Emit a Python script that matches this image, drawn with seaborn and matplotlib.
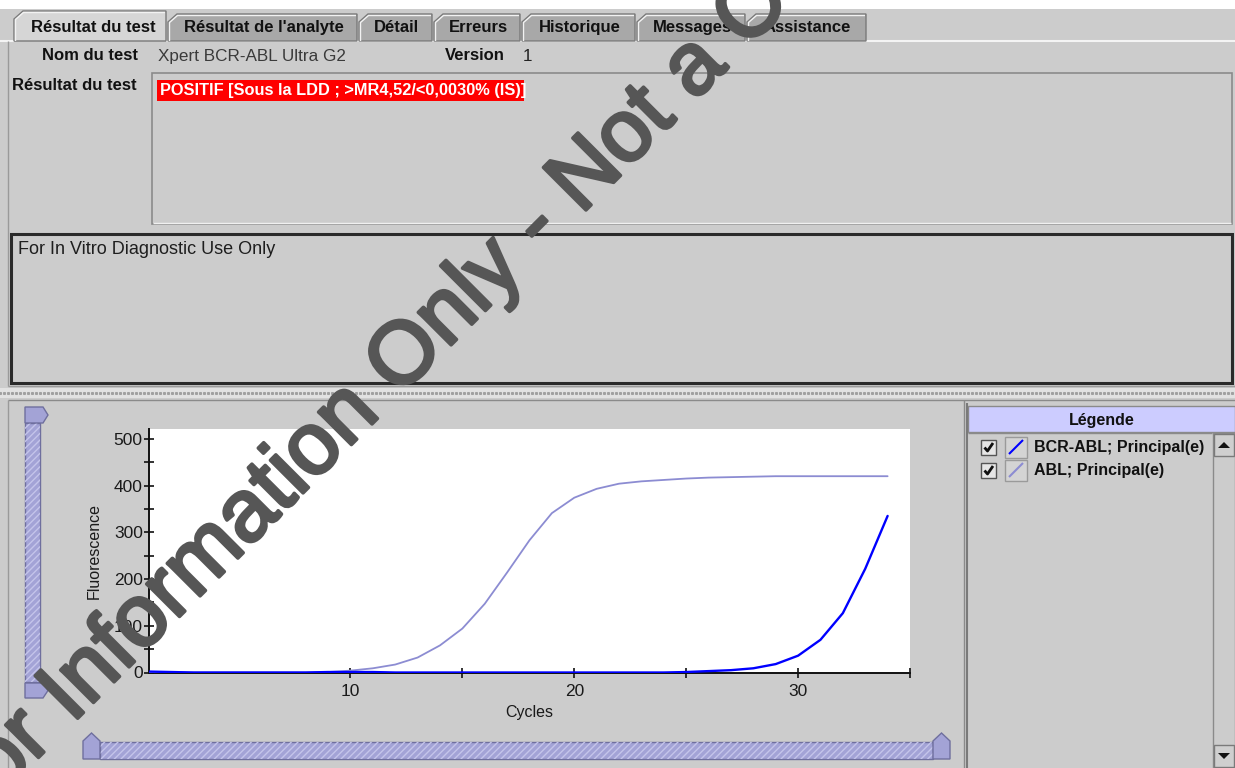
import matplotlib
matplotlib.use("Agg")
import matplotlib.pyplot as plt
import matplotlib.patheffects as pe
from matplotlib.patches import Rectangle, Polygon
from matplotlib.ticker import FixedLocator
import pandas as pd
import seaborn as sns

# values
cycles = list(range(1, 35))
bcr_abl = [2, 1, 0, 0, 0, 0, 0, 0, 1, 1, 1, 0, 0, 0, 0, 0, 0,
           0, 0, 0, 0, 0, 0, 0, 1, 3, 5, 9, 18, 36, 70, 127, 222, 335]
abl = [0, 0, 0, 0, 0, 0, 0, 0, 1, 4, 9, 17, 32, 58, 94, 147, 214,
       283, 341, 374, 393, 404, 409, 412, 415, 417, 418, 419, 420, 420, 420, 420, 420, 420]
series_names = ["BCR-ABL; Principal(e)", "ABL; Principal(e)"]
series_colors = ["#0000ff", "#8c8cd2"]
tab_labels = ["Résultat du test", "Résultat de l'analyte", "Détail", "Erreurs",
              "Historique", "Messages", "Assistance"]
test_name = "Xpert BCR-ABL Ultra G2"
version = "1"
result_text = "POSITIF [Sous la LDD ; >MR4,52/<0,0030% (IS)]"
notice = "For In Vitro Diagnostic Use Only"
watermark = "For Information Only - Not a Copy"

W, H = 1235, 768
GREY = "#cccccc"
LAV = "#a3a3d6"

sns.set_theme(style="white")
plt.rcParams["font.family"] = ["Liberation Sans", "DejaVu Sans"]

fig = plt.figure(figsize=(W / 100, H / 100), dpi=100, facecolor=GREY)
bg = fig.add_axes([0, 0, 1, 1], zorder=0)
bg.set_xlim(0, W)
bg.set_ylim(H, 0)
bg.axis("off")


def box(ax, x0, y0, x1, y1, fc="none", ec="none", lw=1.0, z=1):
    ax.add_patch(Rectangle((x0, y0), x1 - x0, y1 - y0, fc=fc, ec=ec, lw=lw, zorder=z))


def line(ax, xs, ys, c, lw=1.0, z=2):
    ax.plot(xs, ys, color=c, lw=lw, zorder=z, solid_capstyle="butt")


# top white strip
box(bg, 0, 0, W, 9, fc="white")

# tabs
tab_x = [(14, 166), (168, 357), (359, 432), (434, 520), (522, 635), (637, 745), (747, 866)]
for i, (lab, (x0, x1)) in enumerate(zip(tab_labels, tab_x)):
    top = 11 if i == 0 else 14
    fc = "#d6d6d6" if i == 0 else "#a8a8a8"
    pts = [(x0, 41), (x0, top + 8), (x0 + 9, top), (x1, top), (x1, 41)]
    bg.add_patch(Polygon(pts, closed=True, fc=fc, ec="#7a7a7a", lw=1.0, zorder=2))
    line(bg, [x0 + 1.5, x0 + 1.5, x0 + 9.5, x1 - 1], [41, top + 8.5, top + 1.5, top + 1.5], "#f2f2f2", 1.0, 3)
    bg.text((x0 + x1) / 2 + (3 if i == 0 else 1), 27.5, lab, ha="center", va="center",
            fontsize=12, fontweight="bold", color="#111111", zorder=4)
line(bg, [166, W], [41, 41], "#f4f4f4", 1.5, 1)
line(bg, [0, 14], [41, 41], "#f4f4f4", 1.5, 1)

# header fields
bg.text(138, 55.5, "Nom du test", ha="right", va="center", fontsize=12, fontweight="bold", color="#111111")
bg.text(158, 56.5, test_name, ha="left", va="center", fontsize=12.3, color="#3a3a3a")
bg.text(445, 55.5, "Version", ha="left", va="center", fontsize=12, fontweight="bold", color="#111111")
bg.text(523, 56.5, version, ha="left", va="center", fontsize=12.3, color="#222222")
bg.text(12, 85, "Résultat du test", ha="left", va="center", fontsize=12, fontweight="bold", color="#111111")

# result box
box(bg, 152, 73, 1232, 224, ec="#8a8a8a", lw=1.2)
line(bg, [153, 1231], [223, 223], "#f0f0f0", 1.0)
box(bg, 157, 79.5, 524, 101, fc="#ff0000")
bg.text(160, 90.5, result_text, ha="left", va="center", fontsize=11.8, fontweight="bold", color="white", zorder=3)

# notice box
box(bg, 10.5, 234, 1232, 383, ec="#2a2a2a", lw=2.2)
bg.text(18, 250, notice, ha="left", va="center", fontsize=13, color="#1e1e1e")

# outer panel border + splitter
line(bg, [8, 8], [41, 386], "#9a9a9a", 1.0)
line(bg, [8, W], [386, 386], "#9a9a9a", 1.0)
box(bg, 0, 388, W, 398, fc="#e2e2e2")
dots = range(0, W, 4)
bg.plot(dots, [393] * len(dots), ls="none", marker="s", ms=1.2, color="#a0a0a0", zorder=2)
line(bg, [8, W], [400, 400], "#8a8a8a", 1.0)
line(bg, [8, 8], [400, H], "#9a9a9a", 1.0)

# vertical range slider
box(bg, 25, 423, 40, 682, fc=LAV, ec="#6f6f9e", lw=1.0, z=2)
bg.add_patch(Rectangle((25, 423), 15, 259, fc="none", ec="#c4c4ea", hatch="/////", lw=0, zorder=3))
for yy0, yy1 in [(407, 423), (683, 698)]:
    pts = [(25, yy0), (43, yy0), (48, (yy0 + yy1) / 2), (43, yy1), (25, yy1)]
    bg.add_patch(Polygon(pts, closed=True, fc=LAV, ec="#6f6f9e", lw=1.0, zorder=3))

# horizontal range slider
box(bg, 100, 742, 933, 759, fc=LAV, ec="#6f6f9e", lw=1.0, z=2)
bg.add_patch(Rectangle((100, 742), 833, 17, fc="none", ec="#c4c4ea", hatch="/////", lw=0, zorder=3))
for xx0, xx1 in [(83, 100), (933, 950)]:
    pts = [(xx0, 759), (xx0, 741), ((xx0 + xx1) / 2, 733), (xx1, 741), (xx1, 759)]
    bg.add_patch(Polygon(pts, closed=True, fc=LAV, ec="#6f6f9e", lw=1.0, zorder=3))

# legend panel
line(bg, [964, 964], [400, H], "#8a8a8a", 1.0)
line(bg, [967, 967], [403, H], "#7a7a7a", 1.5)
box(bg, 968, 406, W, 432, fc="#ccccff", ec="#8a8a8a", lw=1.0)
bg.text(1102, 420, "Légende", ha="center", va="center", fontsize=11.5, fontweight="bold", color="#111111")
line(bg, [968, 1212], [433, 433], "#8a8a8a", 1.0)
for k, (name, col) in enumerate(zip(series_names, series_colors)):
    yc = 447 + 23 * k
    box(bg, 981, yc - 7, 996, yc + 8, fc="#e6e6e6", ec="#555555", lw=1.0, z=3)
    line(bg, [984.5, 987.5, 993], [yc + 0.5, yc + 4, yc - 4], "#111111", 2.0, 4)
    box(bg, 1005, yc - 10, 1027, yc + 11, fc="#d4d4d4", ec="#9a9a9a", lw=1.0, z=3)
    line(bg, [1009, 1023], [yc + 7, yc - 7], col, 1.5, 4)
    bg.text(1034, yc + 0.5, name, ha="left", va="center", fontsize=11.5, fontweight="bold", color="#111111")

# legend scrollbar
box(bg, 1213, 433, W, H, fc=GREY, ec="#8a8a8a", lw=1.0)
for yy0, yy1, up in [(434, 456, True), (745, 767, False)]:
    box(bg, 1214, yy0, 1234, yy1, fc="#cfcfcf", ec="#7a7a7a", lw=1.0, z=3)
    ym = (yy0 + yy1) / 2
    if up:
        tri = [(1218, ym + 3), (1230, ym + 3), (1224, ym - 3)]
    else:
        tri = [(1218, ym - 3), (1230, ym - 3), (1224, ym + 3)]
    bg.add_patch(Polygon(tri, closed=True, fc="#111111", ec="none", zorder=4))

# amplification chart
ax = fig.add_axes([149 / W, 1 - 672.5 / H, (910 - 149) / W, (672.5 - 429) / H], zorder=1)
ax.set_facecolor("white")
df = pd.DataFrame({
    "Cycles": cycles * 2,
    "Fluorescence": abl + bcr_abl,
    "Cible": [series_names[1]] * len(cycles) + [series_names[0]] * len(cycles),
})
sns.lineplot(data=df[df["Cible"] == series_names[1]], x="Cycles", y="Fluorescence",
             color=series_colors[1], lw=1.3, estimator=None, legend=False, ax=ax)
sns.lineplot(data=df[df["Cible"] == series_names[0]], x="Cycles", y="Fluorescence",
             color=series_colors[0], lw=1.7, estimator=None, legend=False, ax=ax)
ax.set_xlim(1, 35)
ax.set_ylim(0, 521)
ax.yaxis.set_major_locator(FixedLocator([0, 100, 200, 300, 400, 500]))
ax.yaxis.set_minor_locator(FixedLocator([50, 150, 250, 350, 450]))
ax.xaxis.set_major_locator(FixedLocator([10, 20, 30]))
ax.xaxis.set_minor_locator(FixedLocator([15, 25, 35]))
for s in ["top", "right"]:
    ax.spines[s].set_visible(False)
for s in ["left", "bottom"]:
    ax.spines[s].set_color("#111111")
    ax.spines[s].set_linewidth(1.4)
    ax.spines[s].set_zorder(1)
ax.tick_params(which="both", direction="inout", color="#111111", width=1.2, length=7,
               labelsize=12.5, labelcolor="#1a1a1a", left=True, bottom=True)
ax.tick_params(axis="y", pad=1)
ax.tick_params(axis="x", pad=5)
ax.set_xlabel("Cycles", fontsize=11.5, color="#1a1a1a", labelpad=4)
ax.set_ylabel("Fluorescence", fontsize=11.5, color="#1a1a1a", labelpad=9)
ax.grid(False)

# watermark on top of everything
top = fig.add_axes([0, 0, 1, 1], zorder=10)
top.set_xlim(0, W)
top.set_ylim(H, 0)
top.axis("off")
top.patch.set_alpha(0)
top.text(-38, 834, watermark, rotation=45, rotation_mode="anchor", ha="left", va="baseline",
         fontsize=63, color="#565656", zorder=10,
         path_effects=[pe.withStroke(linewidth=2.5, foreground="#565656")])

fig.savefig("out.png", dpi=100, facecolor=GREY)
